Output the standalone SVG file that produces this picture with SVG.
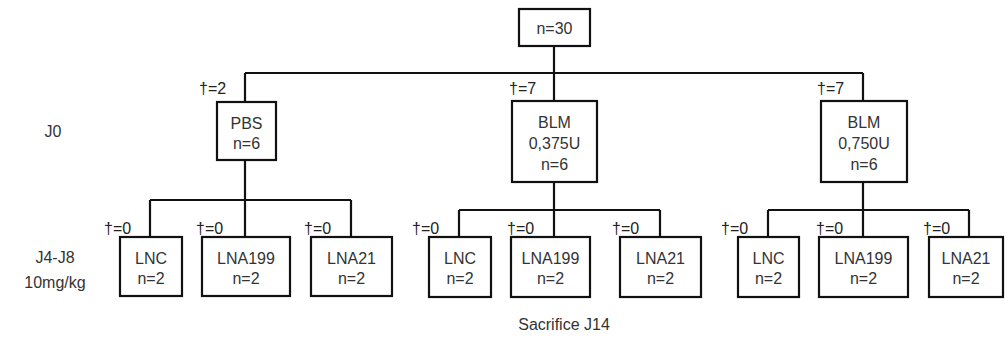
<svg xmlns="http://www.w3.org/2000/svg" width="1005" height="345" viewBox="0 0 1005 345">
<style>
.box{fill:#fff;stroke:#111;stroke-width:2.2}
.ln{fill:none;stroke:#111;stroke-width:2.2}
text{font-family:"Liberation Sans",Arial,sans-serif;font-size:16px;fill:#333;text-anchor:middle;dominant-baseline:central}
.d{font-size:16px;text-anchor:start;fill:#222}
</style>
<rect width="1005" height="345" fill="#fff"/>
<g id="connectors">
<path class="ln" d="M554,46V73M245,73H863M245,73V102M554,73V101M863,73V101"/>
<path class="ln" d="M245,160V200M150,200H351M150,200V237M245,200V237M351,200V237"/>
<path class="ln" d="M554,182V210M459,210H660M459,210V237M554,210V237M660,210V237"/>
<path class="ln" d="M863,182V210M768,210H969M768,210V237M863,210V237M969,210V237"/>
</g>
<g id="root"><rect class="box" x="519" y="9" width="71" height="37"/><text x="554.5" y="28">n=30</text></g>
<g id="pbs"><rect class="box" x="217" y="102" width="59" height="58"/><text x="246.5" y="123">PBS</text><text x="246.5" y="143">n=6</text><text class="d" x="199" y="88">†=2</text></g>
<g id="blm375"><rect class="box" x="512" y="101" width="85" height="81"/><text x="554.5" y="122">BLM</text><text x="554.5" y="143">0,375U</text><text x="554.5" y="164">n=6</text><text class="d" x="509" y="88">†=7</text></g>
<g id="blm750"><rect class="box" x="821" y="101" width="86" height="81"/><text x="864" y="122">BLM</text><text x="864" y="143">0,750U</text><text x="864" y="164">n=6</text><text class="d" x="817" y="88">†=7</text></g>
<g id="pbs-lnc"><rect class="box" x="120" y="237" width="62" height="59"/><text x="151" y="258">LNC</text><text x="151" y="278">n=2</text><text class="d" x="104" y="228">†=0</text></g>
<g id="pbs-lna199"><rect class="box" x="202" y="237" width="88" height="59"/><text x="246" y="258">LNA199</text><text x="246" y="278">n=2</text><text class="d" x="196" y="228">†=0</text></g>
<g id="pbs-lna21"><rect class="box" x="311" y="237" width="81" height="59"/><text x="351.5" y="258">LNA21</text><text x="351.5" y="278">n=2</text><text class="d" x="304" y="228">†=0</text></g>
<g id="b1-lnc"><rect class="box" x="429" y="237" width="62" height="60"/><text x="460" y="258">LNC</text><text x="460" y="278">n=2</text><text class="d" x="412" y="228">†=0</text></g>
<g id="b1-lna199"><rect class="box" x="511" y="237" width="79" height="60"/><text x="550.5" y="258">LNA199</text><text x="550.5" y="278">n=2</text><text class="d" x="507" y="228">†=0</text></g>
<g id="b1-lna21"><rect class="box" x="620" y="237" width="81" height="60"/><text x="660.5" y="258">LNA21</text><text x="660.5" y="278">n=2</text><text class="d" x="612" y="228">†=0</text></g>
<g id="b2-lnc"><rect class="box" x="738" y="237" width="61" height="60"/><text x="768.5" y="258">LNC</text><text x="768.5" y="278">n=2</text><text class="d" x="721" y="228">†=0</text></g>
<g id="b2-lna199"><rect class="box" x="819" y="237" width="89" height="60"/><text x="863.5" y="258">LNA199</text><text x="863.5" y="278">n=2</text><text class="d" x="816" y="228">†=0</text></g>
<g id="b2-lna21"><rect class="box" x="929" y="237" width="74" height="60"/><text x="966" y="258">LNA21</text><text x="966" y="278">n=2</text><text class="d" x="923" y="228">†=0</text></g>
<g id="labels">
<text x="53" y="131">J0</text>
<text x="55" y="257">J4-J8</text>
<text x="55" y="282">10mg/kg</text>
<text x="564" y="324">Sacrifice J14</text>
</g>
</svg>
